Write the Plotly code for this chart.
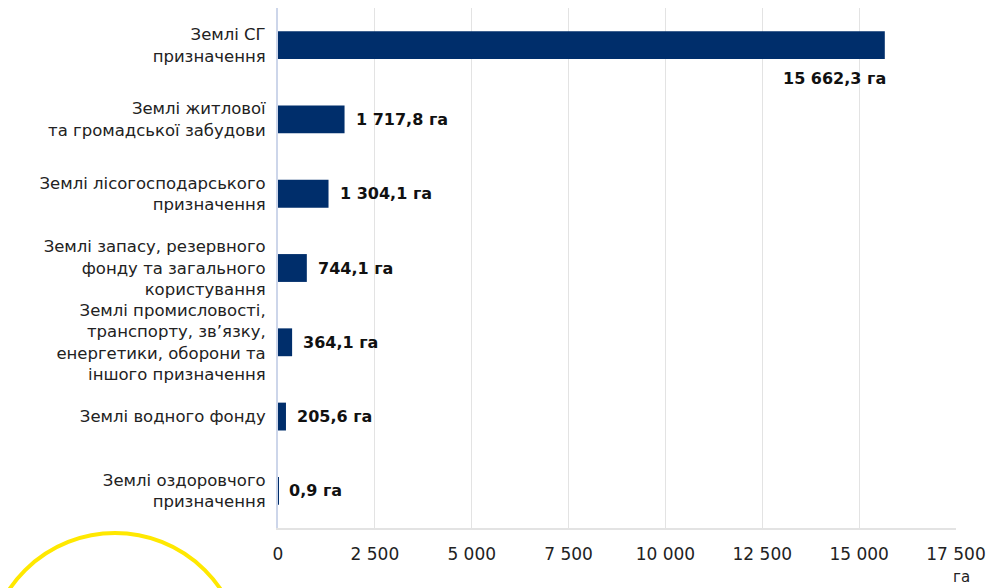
import plotly.graph_objects as go

categories = [
    "Землі СГ<br>призначення",
    "Землі житлової<br>та громадської забудови",
    "Землі лісогосподарського<br>призначення",
    "Землі запасу, резервного<br>фонду та загального<br>користування",
    "Землі промисловості,<br>транспорту, зв’язку,<br>енергетики, оборони та<br>іншого призначення",
    "Землі водного фонду",
    "Землі оздоровчого<br>призначення",
]
values = [15662.3, 1717.8, 1304.1, 744.1, 364.1, 205.6, 0.9]
x_ticks = [0, 2500, 5000, 7500, 10000, 12500, 15000, 17500]
unit = "га"

BAR = "#002e6b"
FONT = "DejaVu Sans"

def fmt(v):
    return f"{v:,.1f}".replace(",", " ").replace(".", ",") + " " + unit

fig = go.Figure(go.Bar(
    x=values, y=categories, orientation="h",
    marker=dict(color=BAR, line=dict(width=0)),
    hoverinfo="skip",
))

annotations = []
for i, (c, v) in enumerate(zip(categories, values)):
    if i == 0:
        annotations.append(dict(x=v, y=c, xref="x", yref="y", text="<b>" + fmt(v) + "</b>",
                                showarrow=False, xanchor="right", yanchor="middle",
                                yshift=-33, xshift=3,
                                font=dict(family=FONT, size=16, color="#111111")))
    else:
        annotations.append(dict(x=v, y=c, xref="x", yref="y", text="<b>" + fmt(v) + "</b>",
                                showarrow=False, xanchor="left", yanchor="middle",
                                xshift=9,
                                font=dict(family=FONT, size=16, color="#111111")))

annotations.append(dict(x=1.0, y=0, xref="paper", yref="paper", text=unit, showarrow=False,
                        xanchor="center", yanchor="top", xshift=5, yshift=-38,
                        font=dict(family=FONT, size=15, color="#222222")))

# page has an 8px body margin; figure is 991x580 placed at (8, 8)
OFF = 8
FW, FH = 999 - OFF, 588 - OFF
# target plot area in screen px: x 278..956, y 8..528
L, R, T, B = 278 - OFF, FW - (956 - OFF), 0, FH - (528 - OFF)
W, H = FW - L - R, FH - T - B

def px_x(p):
    return (p - OFF - L) / W

def px_y(p):
    return (FH - B - (p - OFF)) / H

shapes = [dict(type="circle", xref="paper", yref="paper",
               x0=px_x(-12), x1=px_x(242), y0=px_y(786), y1=px_y(533),
               line=dict(color="#ffe800", width=4), fillcolor="rgba(0,0,0,0)", layer="above")]

fig.update_layout(
    width=FW, height=FH,
    margin=dict(l=L, r=R, t=T, b=B, pad=0, autoexpand=False),
    paper_bgcolor="white", plot_bgcolor="white",
    separators=", ",
    bargap=0.625,
    showlegend=False,
    annotations=annotations,
    shapes=shapes,
    font=dict(family=FONT, size=16, color="#222222"),
)
fig.update_xaxes(
    range=[0, 17500], autorange=False, tickvals=x_ticks, tickformat=",d",
    showgrid=True, gridcolor="#e3e3e3", gridwidth=1,
    showline=True, linecolor="#e3e3e3", linewidth=2,
    zeroline=False, ticks="", ticklabelstandoff=10, automargin=False,
    tickfont=dict(family=FONT, size=17, color="#222222"),
)
fig.update_yaxes(
    range=[len(categories) - 0.5, -0.5], autorange=False, automargin=False,
    showline=True, linecolor="#cdd6ea", linewidth=2,
    showgrid=False, ticks="", ticklabelstandoff=7,
    tickfont=dict(family=FONT, size=16.5, color="#222222"),
)

fig.write_html("out.html")
